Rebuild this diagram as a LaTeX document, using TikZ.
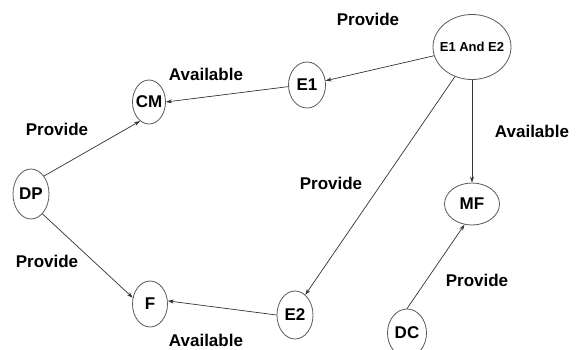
\documentclass[tikz,border=0pt]{standalone}
\usepackage{fontspec}
\setmainfont{Liberation Sans}
\usetikzlibrary{shapes.geometric,arrows.meta}
\newcommand{\ztext}[1]{\makebox[0pt]{#1}}
\begin{document}
\begin{tikzpicture}[x=1pt,y=-1pt,
  ent/.style={ellipse,draw=black!65,line width=0.8pt,inner sep=0pt,
    font=\fontsize{17}{18}\selectfont\bfseries},
  lbl/.style={font=\fontsize{17}{18}\selectfont\bfseries,inner sep=0pt},
  link/.style={draw=black!80,line width=0.7pt,-{Stealth[length=6pt,width=4pt]}}]
\useasboundingbox (0,0) rectangle (579,349);
\node[ent,minimum width=78pt,minimum height=65pt,font=\fontsize{13}{14}\selectfont\bfseries] (E12) at (472,47) {\ztext{E1 And E2}};
\node[ent,minimum width=37pt,minimum height=46pt] (E1) at (307,85) {\ztext{E1}};
\node[ent,minimum width=33pt,minimum height=44pt] (CM) at (149,102) {\ztext{CM}};
\node[ent,minimum width=36pt,minimum height=50pt] (DP) at (31,194) {\ztext{DP}};
\node[ent,minimum width=35pt,minimum height=46pt] (F) at (150,304) {\ztext{F}};
\node[ent,minimum width=36pt,minimum height=48pt] (E2) at (295,315) {\ztext{E2}};
\node[ent,minimum width=55pt,minimum height=42pt] (MF) at (472,204) {\ztext{MF}};
\node[ent,minimum width=39pt,minimum height=48pt] (DC) at (407,333) {\ztext{DC}};
\node[lbl] (l1) at (368,19) {Provide};
\node[lbl] (l2) at (206,74) {Available};
\node[lbl] (l3) at (57,129) {Provide};
\node[lbl] (l4) at (532,131) {Available};
\node[lbl] (l5) at (331,183) {Provide};
\node[lbl] (l6) at (47,261) {Provide};
\node[lbl] (l7) at (206,340) {Available};
\node[lbl] (l8) at (477,280) {Provide};
\draw[link] (E12) -- (E1);
\draw[link] (E1.185) -- (CM.east);
\draw[link] (DP.north east) -- (CM.245);
\draw[link] (DP.300) -- (F.160);
\draw[link] (E2.west) -- (F.10);
\draw[link] (E12.240) -- (E2.63);
\draw[link] (E12.south) -- (MF.north);
\draw[link] (DC.north) -- (MF.250);
\end{tikzpicture}
\end{document}
